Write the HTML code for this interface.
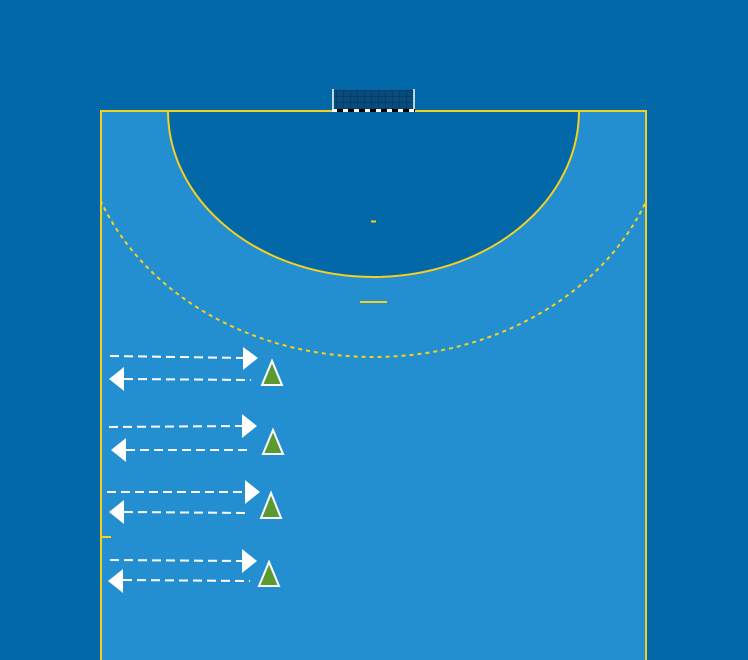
<!DOCTYPE html>
<html><head><style>
html,body{margin:0;padding:0;background:#0268a8;}
svg{display:block}
</style></head><body>
<svg width="748" height="660" viewBox="0 0 748 660" xmlns="http://www.w3.org/2000/svg">
<defs>
<clipPath id="c"><rect x="101" y="111" width="545" height="549"/></clipPath>
<pattern id="net" width="7" height="6" patternUnits="userSpaceOnUse"><path d="M0 0H7M0 0V6" stroke="#042f50" stroke-width="1" fill="none"/></pattern>
</defs>
<rect width="748" height="660" fill="#0268a8"/>
<rect x="101" y="111" width="545" height="560" fill="#238fd0" stroke="#f5d020" stroke-width="2"/>
<g clip-path="url(#c)">
<ellipse cx="373.5" cy="111" rx="293" ry="246" fill="none" stroke="#f5d020" stroke-width="2" stroke-dasharray="4,4"/>
<path d="M168 111 A205.5 166 0 0 0 579 111 Z" fill="#0268a8" stroke="#f5d020" stroke-width="2"/>
</g>
<line x1="101" y1="111" x2="646" y2="111" stroke="#f5d020" stroke-width="2"/>
<rect x="333" y="90" width="81" height="20" fill="#074c7c"/>
<rect x="333" y="90" width="81" height="20" fill="url(#net)"/>
<line x1="333" y1="89" x2="333" y2="111" stroke="#fff" stroke-width="1.5"/>
<line x1="414" y1="89" x2="414" y2="111" stroke="#fff" stroke-width="1.5"/>
<line x1="332" y1="110.5" x2="415" y2="110.5" stroke="#000" stroke-width="3"/>
<line x1="332" y1="110.5" x2="415" y2="110.5" stroke="#fff" stroke-width="3" stroke-dasharray="5,6"/>
<line x1="371" y1="221.5" x2="376" y2="221.5" stroke="#f5d020" stroke-width="2"/>
<line x1="360" y1="302" x2="387" y2="302" stroke="#f5d020" stroke-width="2"/>
<line x1="101" y1="537" x2="111" y2="537" stroke="#f5d020" stroke-width="2"/>
<g stroke="#fff" stroke-width="2" stroke-dasharray="9,5" fill="none">
<line x1="110" y1="356" x2="244" y2="358"/>
<line x1="124" y1="379" x2="251" y2="380"/>
<line x1="109" y1="427" x2="243" y2="426"/>
<line x1="126" y1="450" x2="250" y2="450"/>
<line x1="107" y1="492" x2="246" y2="492"/>
<line x1="124" y1="512" x2="248" y2="513"/>
<line x1="110" y1="560" x2="243" y2="561"/>
<line x1="123" y1="580" x2="250" y2="581"/>
</g>
<g fill="#fff">
<polygon points="243,347 258,358 243,370"/>
<polygon points="124,367 109,379 124,391"/>
<polygon points="242,414 257,426 242,438"/>
<polygon points="126,438 111,450 126,462"/>
<polygon points="245,480 260,492 245,504"/>
<polygon points="124,500 109,512 124,524"/>
<polygon points="242,549 257,561 242,573"/>
<polygon points="123,569 108,581 123,593"/>
</g>
<g fill="#5a9a2e" stroke="#fff" stroke-width="2" stroke-linejoin="miter">
<polygon points="272,361 262,385 282,385"/>
<polygon points="273,430 263,454 283,454"/>
<polygon points="271,493 261,518 281,518"/>
<polygon points="269,562 259,586 279,586"/>
</g>
</svg>
</body></html>
